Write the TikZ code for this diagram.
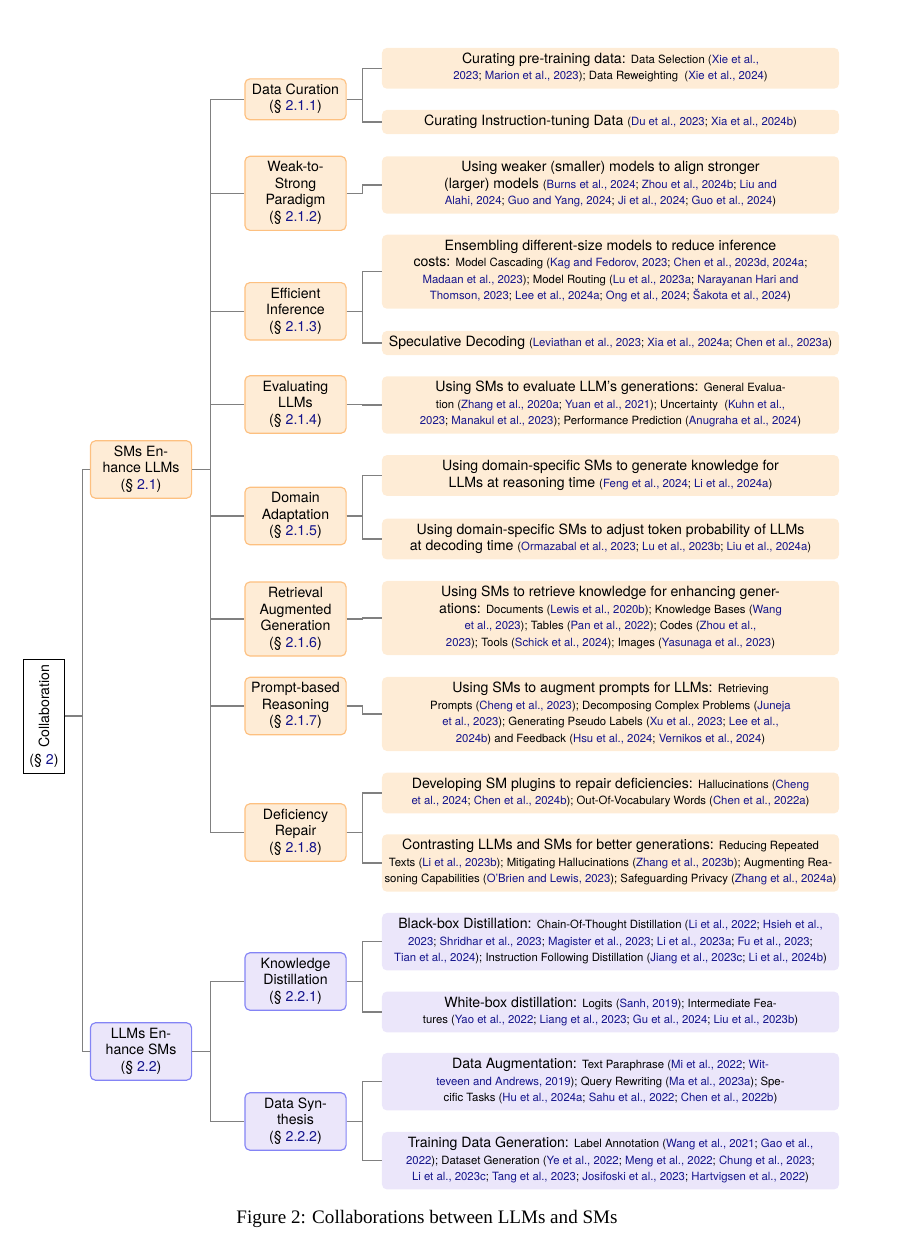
\documentclass[tikz,border=0pt]{standalone}
\usepackage{fontspec}
\usepackage{graphicx,xcolor}
\setmainfont{TeX Gyre Heros}
\newfontfamily\capfont{Liberation Serif}
\definecolor{citeblue}{RGB}{20,20,140}
\definecolor{leafor}{RGB}{254,236,214}
\definecolor{midor}{RGB}{253,192,128}
\definecolor{leafpu}{RGB}{235,230,250}
\definecolor{midpu}{RGB}{132,132,245}
\definecolor{linegray}{RGB}{128,128,128}
\newcommand{\ct}[1]{\textcolor{citeblue}{#1}}
\newcommand{\sm}[1]{{\fontsize{5.95}{8.7}\selectfont #1}}

\begin{document}
\begin{tikzpicture}[x=0.524pt,y=0.524pt,yscale=-1,xscale=1,
    leafbox/.style={draw=none, rounded corners=2.6pt, text width=238pt, inner xsep=0.75pt, inner ysep=2pt, align=flush center, font=\fontsize{7.4}{8.7}\selectfont, execute at begin node=\strut, execute at end node=\strut},
    midbox/.style={line width=0.6pt, rounded corners=2.6pt, text width=51pt, inner xsep=1pt, inner ysep=2pt, align=flush center, font=\fontsize{7.4}{8.7}\selectfont, execute at begin node=\strut, execute at end node=\strut},
    orleaf/.style={leafbox, fill=leafor},
    puleaf/.style={leafbox, fill=leafpu},
    ormid/.style={midbox, draw=midor, fill=leafor},
    pumid/.style={midbox, draw=midpu, fill=leafpu},
    conn/.style={draw=linegray, line width=0.6pt}]
    \useasboundingbox (0,0) rectangle (900,1236);

    % Root Node
    \node [draw=black, line width=0.5pt, fill=white, minimum width=21pt, minimum height=59.7pt, inner sep=0pt, align=center, font=\fontsize{7.4}{8.7}\selectfont] (collab) at (44,716) {\rotatebox{90}{Collaboration}\\(§ \ct{2})};

    % Level 1 Nodes
    \node [ormid] (sml) at (141,469.5) {SMs En-\\hance LLMs\\(§ \ct{2.1})};
    \node [pumid] (lms) at (141,1051.5) {LLMs En-\\hance SMs\\(§ \ct{2.2})};

    % Level 2 Nodes
    \node [ormid] (dc) at (295.5,99.3) {Data Curation\\(§ \ct{2.1.1})};
    \node [ormid] (ws) at (295.5,193.3) {Weak-to-\\Strong\\Paradigm\\(§ \ct{2.1.2})};
    \node [ormid] (ei) at (295.5,311.3) {Efficient\\Inference\\(§ \ct{2.1.3})};
    \node [ormid] (ev) at (295.5,404.5) {Evaluating\\LLMs\\(§ \ct{2.1.4})};
    \node [ormid] (da) at (295.5,516) {Domain\\Adaptation\\(§ \ct{2.1.5})};
    \node [ormid] (rag) at (295.5,619) {Retrieval\\Augmented\\Generation\\(§ \ct{2.1.6})};
    \node [ormid] (pr) at (295.5,706) {Prompt-based\\Reasoning\\(§ \ct{2.1.7})};
    \node [ormid] (dr) at (295.5,832.5) {Deficiency\\Repair\\(§ \ct{2.1.8})};
    \node [pumid] (kd) at (295.5,981.5) {Knowledge\\Distillation\\(§ \ct{2.2.1})};
    \node [pumid] (ds) at (295.5,1121.5) {Data Syn-\\thesis\\(§ \ct{2.2.2})};

    % Leaf Nodes
    \node [orleaf] (pretrain) at (610.5,68.3) {Curating pre-training data: \sm{Data Selection (\ct{Xie et al.,}}\\
        \sm{\ct{2023}; \ct{Marion et al., 2023}); Data Reweighting\ \ (\ct{Xie et al., 2024})}};
    \node [orleaf] (instr) at (610.5,122) {Curating Instruction-tuning Data \sm{(\ct{Du et al., 2023}; \ct{Xia et al., 2024b})}};
    \node [orleaf] (weaker) at (610.5,185) {Using weaker (smaller) models to align stronger\\
        (larger) models \sm{(\ct{Burns et al., 2024}; \ct{Zhou et al., 2024b}; \ct{Liu and}}\\
        \sm{\ct{Alahi, 2024}; \ct{Guo and Yang, 2024}; \ct{Ji et al., 2024}; \ct{Guo et al., 2024})}};
    \node [orleaf] (ensemble) at (610.5,271.7) {Ensembling different-size models to reduce inference\\
        costs: \sm{Model Cascading (\ct{Kag and Fedorov, 2023}; \ct{Chen et al., 2023d, 2024a};}\\
        \sm{\ct{Madaan et al., 2023}); Model Routing (\ct{Lu et al., 2023a}; \ct{Narayanan Hari and}}\\
        \sm{\ct{Thomson, 2023}; \ct{Lee et al., 2024a}; \ct{Ong et al., 2024}; \ct{Šakota et al., 2024})}};
    \node [orleaf] (specdec) at (610.5,343) {Speculative Decoding \sm{(\ct{Leviathan et al., 2023}; \ct{Xia et al., 2024a}; \ct{Chen et al., 2023a})}};
    \node [orleaf] (evalgen) at (610.5,405) {Using SMs to evaluate LLM’s generations: \sm{General Evalua-}\\
        \sm{tion (\ct{Zhang et al., 2020a}; \ct{Yuan et al., 2021}); Uncertainty\ \ (\ct{Kuhn et al.,}}\\
        \sm{\ct{2023}; \ct{Manakul et al., 2023}); Performance Prediction (\ct{Anugraha et al., 2024})}};
    \node [orleaf] (domknow) at (610.5,475.5) {Using domain-specific SMs to generate knowledge for\\
        LLMs at reasoning time \sm{(\ct{Feng et al., 2024}; \ct{Li et al., 2024a})}};
    \node [orleaf] (domtok) at (610.5,539) {Using domain-specific SMs to adjust token probability of LLMs\\
        at decoding time \sm{(\ct{Ormazabal et al., 2023}; \ct{Lu et al., 2023b}; \ct{Liu et al., 2024a})}};
    \node [orleaf] (retrieve) at (610.5,618) {Using SMs to retrieve knowledge for enhancing gener-\\
        ations: \sm{Documents (\ct{Lewis et al., 2020b}); Knowledge Bases (\ct{Wang}}\\
        \sm{\ct{et al., 2023}); Tables (\ct{Pan et al., 2022}); Codes (\ct{Zhou et al.,}}\\
        \sm{\ct{2023}); Tools (\ct{Schick et al., 2024}); Images (\ct{Yasunaga et al., 2023})}};
    \node [orleaf] (augment) at (610.5,714) {Using SMs to augment prompts for LLMs: \sm{Retrieving}\\
        \sm{Prompts (\ct{Cheng et al., 2023}); Decomposing Complex Problems (\ct{Juneja}}\\
        \sm{\ct{et al., 2023}); Generating Pseudo Labels (\ct{Xu et al., 2023}; \ct{Lee et al.,}}\\
        \sm{\ct{2024b}) and Feedback (\ct{Hsu et al., 2024}; \ct{Vernikos et al., 2024})}};
    \node [orleaf] (plugin) at (610.5,793) {Developing SM plugins to repair deficiencies: \sm{Hallucinations (\ct{Cheng}}\\
        \sm{\ct{et al., 2024}; \ct{Chen et al., 2024b}); Out-Of-Vocabulary Words (\ct{Chen et al., 2022a})}};
    \node [orleaf] (contrast) at (610.5,863) {Contrasting LLMs and SMs for better generations: \sm{Reducing Repeated}\\
        \sm{Texts (\ct{Li et al., 2023b}); Mitigating Hallucinations (\ct{Zhang et al., 2023b}); Augmenting Rea-}\\
        \sm{soning Capabilities (\ct{O’Brien and Lewis, 2023}); Safeguarding Privacy (\ct{Zhang et al., 2024a})}};
    \node [puleaf] (blackbox) at (610.5,941.7) {Black-box Distillation: \sm{Chain-Of-Thought Distillation (\ct{Li et al., 2022}; \ct{Hsieh et al.,}}\\
        \sm{\ct{2023}; \ct{Shridhar et al., 2023}; \ct{Magister et al., 2023}; \ct{Li et al., 2023a}; \ct{Fu et al., 2023};}\\
        \sm{\ct{Tian et al., 2024}); Instruction Following Distillation (\ct{Jiang et al., 2023c}; \ct{Li et al., 2024b})}};
    \node [puleaf] (whitebox) at (610.5,1012) {White-box distillation: \sm{Logits (\ct{Sanh, 2019}); Intermediate Fea-}\\
        \sm{tures (\ct{Yao et al., 2022}; \ct{Liang et al., 2023}; \ct{Gu et al., 2024}; \ct{Liu et al., 2023b})}};
    \node [puleaf] (dataaug) at (610.5,1081.7) {Data Augmentation: \sm{Text Paraphrase (\ct{Mi et al., 2022}; \ct{Wit-}}\\
        \sm{\ct{teveen and Andrews, 2019}); Query Rewriting (\ct{Ma et al., 2023a}); Spe-}\\
        \sm{cific Tasks (\ct{Hu et al., 2024a}; \ct{Sahu et al., 2022}; \ct{Chen et al., 2022b})}};
    \node [puleaf] (traingen) at (610.5,1160.7) {Training Data Generation: \sm{Label Annotation (\ct{Wang et al., 2021}; \ct{Gao et al.,}}\\
        \sm{\ct{2022}); Dataset Generation (\ct{Ye et al., 2022}; \ct{Meng et al., 2022}; \ct{Chung et al., 2023};}\\
        \sm{\ct{Li et al., 2023c}; \ct{Tang et al., 2023}; \ct{Josifoski et al., 2023}; \ct{Hartvigsen et al., 2022})}};

    % Connectors
    \draw [conn] (collab.east) -- ++(18,0) |- (sml.west);
    \draw [conn] (collab.east) -- ++(18,0) |- (lms.west);
    \draw [conn] (sml.east) -- ++(18,0) |- (dc.west);
    \draw [conn] (sml.east) -- ++(18,0) |- (ws.west);
    \draw [conn] (sml.east) -- ++(18,0) |- (ei.west);
    \draw [conn] (sml.east) -- ++(18,0) |- (ev.west);
    \draw [conn] (sml.east) -- ++(18,0) |- (da.west);
    \draw [conn] (sml.east) -- ++(18,0) |- (rag.west);
    \draw [conn] (sml.east) -- ++(18,0) |- (pr.west);
    \draw [conn] (sml.east) -- ++(18,0) |- (dr.west);
    \draw [conn] (lms.east) -- ++(18,0) |- (kd.west);
    \draw [conn] (lms.east) -- ++(18,0) |- (ds.west);
    \draw [conn] (dc.east) -- ++(16,0) |- (pretrain.west);
    \draw [conn] (dc.east) -- ++(16,0) |- (instr.west);
    \draw [conn] (ws.east) -- ++(16,0) |- (weaker.west);
    \draw [conn] (ei.east) -- ++(16,0) |- (ensemble.west);
    \draw [conn] (ei.east) -- ++(16,0) |- (specdec.west);
    \draw [conn] (ev.east) -- ++(16,0) |- (evalgen.west);
    \draw [conn] (da.east) -- ++(16,0) |- (domknow.west);
    \draw [conn] (da.east) -- ++(16,0) |- (domtok.west);
    \draw [conn] (rag.east) -- ++(16,0) |- (retrieve.west);
    \draw [conn] (pr.east) -- ++(16,0) |- (augment.west);
    \draw [conn] (dr.east) -- ++(16,0) |- (plugin.west);
    \draw [conn] (dr.east) -- ++(16,0) |- (contrast.west);
    \draw [conn] (kd.east) -- ++(16,0) |- (blackbox.west);
    \draw [conn] (kd.east) -- ++(16,0) |- (whitebox.west);
    \draw [conn] (ds.east) -- ++(16,0) |- (dataaug.west);
    \draw [conn] (ds.east) -- ++(16,0) |- (traingen.west);

    % Caption
    \node [font=\capfont\fontsize{10}{12}\selectfont] (caption) at (427,1219) {Figure 2: Collaborations between LLMs and SMs};

\end{tikzpicture}
\end{document}
